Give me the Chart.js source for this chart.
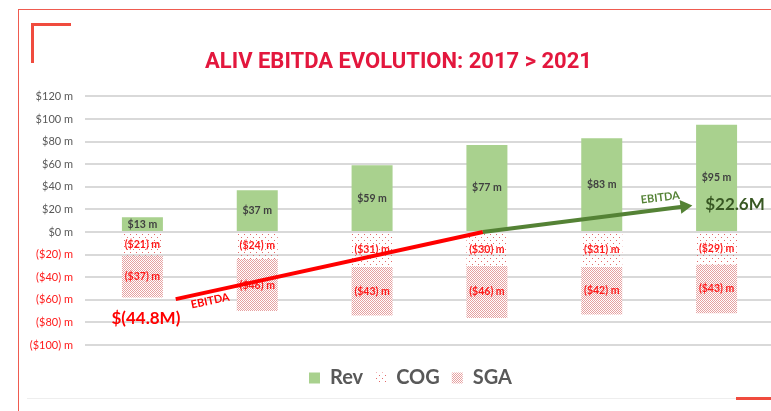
<!DOCTYPE html>
<html>
<head>
<meta charset="utf-8">
<title>ALIV EBITDA Evolution</title>
<script src="https://cdn.jsdelivr.net/npm/chart.js@4.4.1/dist/chart.umd.min.js"></script>
<style>
  html, body { margin: 0; padding: 0; background: #fff; overflow: hidden; }
  #wrap { position: relative; width: 771px; height: 411px; overflow: hidden; }
  #frame { position: absolute; left: 18px; top: 9px; width: 800px; height: 420px;
           border-left: 1px solid #ef5b50; border-top: 1px solid #ef5b50; }
  #corner { position: absolute; left: 31px; top: 23px; width: 37px; height: 37px;
            border-left: 3px solid #f04b3e; border-top: 3px solid #f04b3e; }
  #baseLine { position: absolute; left: 27px; top: 398px; width: 710px; height: 1px; background: #eeeeee; }
  #redTab { position: absolute; left: 736px; top: 397px; width: 40px; height: 3px; background: #f04b3e; }
  #chartBox { position: absolute; left: 22px; top: 0; width: 760px; height: 411px; }
</style>
</head>
<body>
<div id="wrap">
  <div id="frame"></div>
  <div id="corner"></div>
  <div id="baseLine"></div>
  <div id="redTab"></div>
  <div id="chartBox"><canvas id="chart"></canvas></div>
</div>
<script>
// values in $ millions
const years = ['2016', '2017', '2018', '2019', '2020', '2021'];
const revenue = [13, 37, 59, 77, 83, 95];
const cog = [-21, -24, -31, -30, -31, -29];
const sga = [-37, -46, -43, -46, -42, -43];

// EBITDA arrow, x in category units (0 = first bar)
const ebitdaDownX = [0.29, 2.965];
const ebitdaDownY = [-59.4, 0];
const ebitdaUpX = [2.965, 4.72];
const ebitdaUpY = [0, 22.6];
const ebitdaStart = '$(44.8M)';
const ebitdaEnd = '$22.6M';

function money(v) {
  return v < 0 ? '($' + (-v) + ') m' : '$' + v + ' m';
}

function dotPattern(size, dots, color, bg) {
  const c = document.createElement('canvas');
  c.width = size; c.height = size;
  const g = c.getContext('2d');
  if (bg) { g.fillStyle = bg; g.fillRect(0, 0, size, size); }
  g.fillStyle = color;
  dots.forEach(d => g.fillRect(d[0], d[1], 1, 1));
  return g.createPattern(c, 'repeat');
}

const cogFill = dotPattern(6, [[0, 0], [3, 3]], '#e46a6a', null);
const sgaFill = dotPattern(4, [[0, 0], [2, 0], [1, 1], [3, 1], [0, 2], [2, 2], [1, 3], [3, 3]], '#e6a0a0', '#ffffff');

function points(xs, ys) {
  return xs.map((x, i) => ({ x: x, y: ys[i] }));
}

// text along the arrow, placed in data units
const notes = [
  { text: ebitdaStart, x: 0.03, y: -76.9, angle: 0, color: '#ff0000', font: 'bold 17px Lato' },
  { text: 'EBITDA', x: 0.59, y: -61, angle: -12, color: '#ff0000', font: 'bold 11px Lato' },
  { text: 'EBITDA', x: 4.51, y: 30.4, angle: -7, color: '#548235', font: 'bold 11px Lato' },
  { text: ebitdaEnd, x: 5.16, y: 24.2, angle: 0, color: '#385723', font: 'bold 17px Lato' }
];

const barLabels = {
  id: 'barLabels',
  afterDatasetDraw(chart, args) {
    const ds = chart.data.datasets[args.index];
    if (ds.type === 'line') return;
    const ctx = chart.ctx;
    ctx.save();
    ctx.font = 'bold 10.5px Lato';
    ctx.textAlign = 'center';
    ctx.textBaseline = 'middle';
    ctx.fillStyle = ds.labelColor;
    args.meta.data.forEach((bar, i) => {
      const p = bar.getCenterPoint();
      ctx.fillText(money(ds.data[i]), p.x, p.y);
    });
    ctx.restore();
  }
};

const arrowNotes = {
  id: 'arrowNotes',
  afterDatasetsDraw(chart) {
    const ctx = chart.ctx;
    const xs = chart.scales.xa, ys = chart.scales.ya;
    notes.forEach(n => {
      ctx.save();
      ctx.translate(xs.getPixelForValue(n.x), ys.getPixelForValue(n.y));
      ctx.rotate(n.angle * Math.PI / 180);
      ctx.font = n.font;
      ctx.fillStyle = n.color;
      ctx.textAlign = 'center';
      ctx.textBaseline = 'middle';
      ctx.fillText(n.text, 0, 0);
      ctx.restore();
    });
  }
};

// the legend sits a little right of the title in the original
const legendShift = {
  id: 'legendShift',
  afterLayout(chart) {
    chart.legend.left += 12;
    chart.legend.right += 12;
  }
};

new Chart(document.getElementById('chart'), {
  type: 'bar',
  data: {
    labels: years,
    datasets: [
      { label: 'Rev', data: revenue, backgroundColor: '#a9d18e', labelColor: '#404040', borderWidth: 0, xAxisID: 'x', yAxisID: 'y' },
      { label: 'COG', data: cog, backgroundColor: cogFill, labelColor: '#ff1a1a', borderWidth: 0, xAxisID: 'x', yAxisID: 'y' },
      { label: 'SGA', data: sga, backgroundColor: sgaFill, labelColor: '#ff1a1a', borderWidth: 0, xAxisID: 'x', yAxisID: 'y' },
      {
        type: 'line', label: 'EBITDA down', data: points(ebitdaDownX, ebitdaDownY),
        xAxisID: 'xa', yAxisID: 'ya', order: -1,
        borderColor: '#ff0000', borderWidth: 4, pointRadius: 0, tension: 0
      },
      {
        type: 'line', label: 'EBITDA up', data: points(ebitdaUpX, ebitdaUpY),
        xAxisID: 'xa', yAxisID: 'ya', order: -2,
        borderColor: '#548235', backgroundColor: '#548235', borderWidth: 4, tension: 0,
        pointStyle: 'triangle', pointRadius: [0, 8], rotation: [0, 83], pointBorderWidth: 0
      }
    ]
  },
  options: {
    responsive: true,
    maintainAspectRatio: false,
    animation: false,
    events: [],
    datasets: { bar: { barPercentage: 0.357, categoryPercentage: 1, grouped: false } },
    layout: { padding: { right: 7, bottom: 13 } },
    scales: {
      y: {
        stacked: true,
        min: -100,
        max: 120,
        ticks: {
          stepSize: 20,
          padding: 12,
          color: c => (c.tick && c.tick.value < 0 ? '#ff1a1a' : '#595959'),
          font: { family: 'Lato', size: 11 },
          callback: v => money(v)
        },
        grid: { color: '#d9d9d9', lineWidth: 2, drawTicks: false },
        border: { display: false },
        afterFit: s => { s.width = 63; }
      },
      x: {
        stacked: true,
        grid: { display: false },
        border: { display: false },
        ticks: { display: false },
        afterFit: s => { s.height = 11; }
      },
      xa: { type: 'linear', display: false, offset: false, min: -0.5, max: 5.5, ticks: { stepSize: 0.5 } },
      ya: { type: 'linear', display: false, min: -100, max: 120, ticks: { stepSize: 20 } }
    },
    plugins: {
      title: {
        display: true,
        text: 'ALIV EBITDA EVOLUTION: 2017 > 2021',
        color: '#e3173d',
        font: { family: 'Roboto', size: 22, weight: 'bold' },
        padding: { top: 49, bottom: 21 }
      },
      legend: {
        position: 'bottom',
        labels: {
          filter: item => item.datasetIndex < 3,
          boxWidth: 11,
          boxHeight: 11,
          padding: 12,
          color: '#595959',
          font: { family: 'Lato', size: 20, weight: 'bold' }
        }
      },
      tooltip: { enabled: false }
    }
  },
  plugins: [barLabels, arrowNotes, legendShift]
});
</script>
</body>
</html>
